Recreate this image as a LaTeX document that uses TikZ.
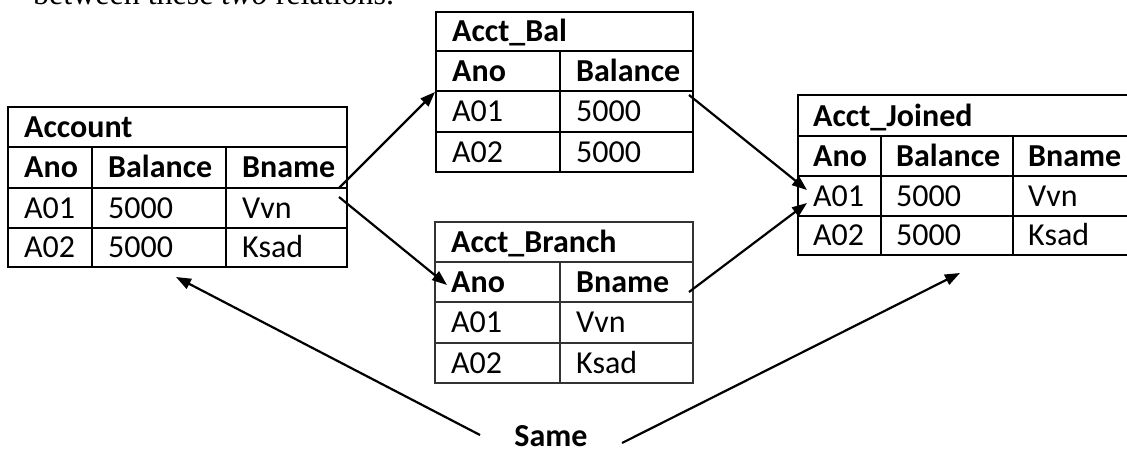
\documentclass[tikz,border=0pt]{standalone}
\usepackage{fontspec}
\setmainfont{Carlito}
\newfontfamily\introfont{Liberation Serif}
\usetikzlibrary{arrows.meta}

\begin{document}
\begin{tikzpicture}[x=1pt,y=-1pt,>={Triangle[length=15pt,width=11pt]},
  tbl/.style={line width=2pt},
  thintbl/.style={line width=1.2pt,black!80},
  txt/.style={anchor=base west,inner sep=0pt,font=\fontsize{32}{38}\selectfont},
  hdr/.style={txt,font=\fontsize{32}{38}\selectfont\bfseries},
  link/.style={->,line width=2.2pt}]
  \useasboundingbox (0,0) rectangle (1127,451);
  \clip (0,0) rectangle (1127,451);
  % --- cut-off line of text at the top ---
  \node[anchor=base west,inner sep=0pt,font=\fontsize{32}{38}\selectfont\introfont] (intro) at (33,4)
    {between these \textit{two} relations.};
  % --- table: Account ---
  \begin{scope}[shift={(8,107)}]
    \draw[tbl] (0,0) rectangle (339,160);
    \foreach \r in {40,81,121} \draw[tbl] (0,\r) -- (339,\r);
    \foreach \c in {84,218} \draw[tbl] (\c,40) -- (\c,160);
    \node[hdr] (acc-t) at (16,30) {Account};
    \node[hdr] (acc-h1) at (16,70) {Ano};
    \node[hdr] (acc-h2) at (100,70) {Balance};
    \node[hdr] (acc-h3) at (234,70) {Bname};
    \node[txt] (acc-11) at (16,111) {A01};
    \node[txt] (acc-12) at (100,111) {5000};
    \node[txt] (acc-13) at (234,111) {Vvn};
    \node[txt] (acc-21) at (16,150) {A02};
    \node[txt] (acc-22) at (100,150) {5000};
    \node[txt] (acc-23) at (234,150) {Ksad};
  \end{scope}
  % --- table: Acct_Bal ---
  \begin{scope}[shift={(436,12)}]
    \draw[tbl] (0,0) rectangle (257,160);
    \foreach \r in {39,79,120} \draw[tbl] (0,\r) -- (257,\r);
    \draw[tbl] (124,39) -- (124,160);
    \node[hdr] (bal-t) at (16,29) {Acct\_Bal};
    \node[hdr] (bal-h1) at (16,69) {Ano};
    \node[hdr] (bal-h2) at (140,69) {Balance};
    \node[txt] (bal-11) at (16,109) {A01};
    \node[txt] (bal-12) at (140,109) {5000};
    \node[txt] (bal-21) at (16,150) {A02};
    \node[txt] (bal-22) at (140,150) {5000};
  \end{scope}
  % --- table: Acct_Branch ---
  \begin{scope}[shift={(435,222)}]
    \draw[thintbl] (0,0) rectangle (258,161);
    \foreach \r in {40,80,121} \draw[thintbl] (0,\r) -- (258,\r);
    \draw[thintbl] (125,40) -- (125,161);
    \node[hdr] (bra-t) at (16,30) {Acct\_Branch};
    \node[hdr] (bra-h1) at (16,70) {Ano};
    \node[hdr] (bra-h2) at (141,70) {Bname};
    \node[txt] (bra-11) at (16,110) {A01};
    \node[txt] (bra-12) at (141,110) {Vvn};
    \node[txt] (bra-21) at (16,151) {A02};
    \node[txt] (bra-22) at (141,151) {Ksad};
  \end{scope}
  % --- table: Acct_Joined ---
  \begin{scope}[shift={(798,95)}]
    \draw[tbl] (0,0) rectangle (336,160);
    \foreach \r in {41,81,121} \draw[tbl] (0,\r) -- (336,\r);
    \foreach \c in {83,215} \draw[tbl] (\c,41) -- (\c,160);
    \node[hdr] (joi-t) at (15,31) {Acct\_Joined};
    \node[hdr] (joi-h1) at (15,71) {Ano};
    \node[hdr] (joi-h2) at (98,71) {Balance};
    \node[hdr] (joi-h3) at (230,71) {Bname};
    \node[txt] (joi-11) at (15,111) {A01};
    \node[txt] (joi-12) at (98,111) {5000};
    \node[txt] (joi-13) at (230,111) {Vvn};
    \node[txt] (joi-21) at (15,150) {A02};
    \node[txt] (joi-22) at (98,150) {5000};
    \node[txt] (joi-23) at (230,150) {Ksad};
  \end{scope}
  % --- label ---
  \node[hdr,anchor=base] (same) at (551,446) {Same};
  % --- arrow ends ---
  \coordinate (accOutA) at (339,188); \coordinate (balIn) at (435,92);
  \coordinate (accOutB) at (339,197); \coordinate (braIn) at (447,285);
  \coordinate (balOut) at (689,95);   \coordinate (joiInA) at (807,190);
  \coordinate (braOut) at (689,292);  \coordinate (joiInB) at (807,203);
  \coordinate (sameL) at (480,435);   \coordinate (accIn) at (176,277);
  \coordinate (sameR) at (622,443);   \coordinate (joiIn) at (960,273);
  \draw[link] (accOutA) -- (balIn);
  \draw[link] (accOutB) -- (braIn);
  \draw[link] (balOut) -- (joiInA);
  \draw[link] (braOut) -- (joiInB);
  \draw[link] (sameL) -- (accIn);
  \draw[link] (sameR) -- (joiIn);
\end{tikzpicture}
\end{document}
